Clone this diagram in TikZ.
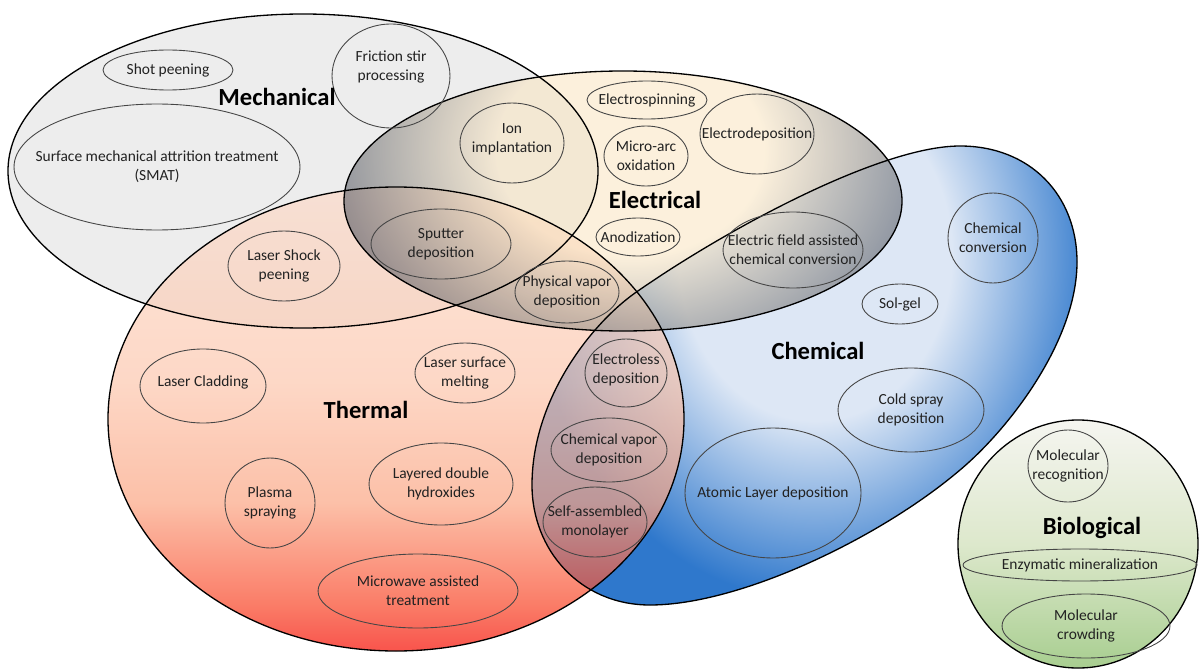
\documentclass[tikz,border=0pt]{standalone}
\usepackage{fontspec}
\setmainfont{Carlito}
\usetikzlibrary{shapes.geometric}

\definecolor{mechgray}{HTML}{EDEDED}
\definecolor{chemlight}{HTML}{DDE7F5}
\definecolor{chemblue}{HTML}{2F78CC}
\definecolor{thermred}{RGB}{246,11,0}
\definecolor{thermlow}{RGB}{248,69,39}
\definecolor{thermmid}{RGB}{251,165,131}
\definecolor{thermhigh}{RGB}{252,199,174}
\definecolor{thermtop}{RGB}{252,219,202}
\definecolor{eleclight}{RGB}{249,228,191}
\definecolor{elecdark}{RGB}{30,42,66}
\definecolor{biotop}{HTML}{F5F5F0}
\definecolor{biomid}{HTML}{DDE8CC}
\definecolor{biobottom}{HTML}{A8CE90}
\definecolor{procline}{HTML}{454545}
\definecolor{textcol}{HTML}{222222}

\pgfdeclareverticalshading{thermshade}{100bp}{color(0bp)=(thermred); color(25bp)=(thermred); color(30bp)=(thermlow); color(41bp)=(thermmid); color(54bp)=(thermhigh); color(75bp)=(thermtop); color(100bp)=(thermtop)}
\pgfdeclareradialshading{chemshade}{\pgfpoint{0bp}{0bp}}{color(0bp)=(chemlight); color(12bp)=(chemlight); color(25bp)=(chemblue); color(50bp)=(chemblue)}
\pgfdeclareradialshading{elecshade}{\pgfpoint{0bp}{0bp}}{color(0bp)=(eleclight); color(10bp)=(eleclight); color(25bp)=(elecdark); color(50bp)=(elecdark)}
\pgfdeclareverticalshading{bioshade}{100bp}{color(0bp)=(biobottom); color(25bp)=(biobottom); color(50bp)=(biomid); color(75bp)=(biotop); color(100bp)=(biotop)}

\tikzset{
  outline/.style={draw=black, line width=0.75pt},
  proc/.style={ellipse, draw=procline, line width=0.5pt, inner sep=0pt},
  proctext/.style={font=\fontsize{8.8}{10.8}\selectfont, text=textcol, align=center, inner sep=0pt},
  group/.style={font=\bfseries\fontsize{14}{16}\selectfont, text=black}
}

\def\chempath{(532,485) .. controls (532,400) and (590,325) .. (635,293)
  .. controls (725,230) and (880,146) .. (960,146)
  .. controls (1030,146) and (1077,195) .. (1077,262)
  .. controls (1077,340) and (1010,428) .. (960,470)
  .. controls (880,538) and (740,605) .. (650,605)
  .. controls (580,605) and (532,550) .. cycle}

\begin{document}
\begin{tikzpicture}[x=0.02cm, y=-0.02cm]
    \useasboundingbox (0,0) rectangle (1200,669);

    % fills
    \fill[mechgray] (303,171) ellipse (295 and 157);
    \fill[chemblue] \chempath;
    \begin{scope}
      \clip \chempath;
      \shade[shading=chemshade] (815,255) ellipse (285 and 345);
    \end{scope}
    \shade[shading=thermshade, fill opacity=0.7] (396,419) ellipse (288 and 232);
    \begin{scope}
      \clip (623,201) ellipse (279 and 130);
      \shade[shading=elecshade, fill opacity=0.55] (630,150) ellipse (335 and 265);
    \end{scope}
    \shade[shading=bioshade] (1078,544) ellipse (120 and 124);

    % outlines
    \draw[outline] (303,171) ellipse (295 and 157);
    \draw[outline] \chempath;
    \draw[outline] (396,419) ellipse (288 and 232);
    \draw[outline] (623,201) ellipse (279 and 130);
    \draw[outline] (1078,544) ellipse (120 and 124);

    % mechanical
    \node[proc, minimum width=2.6cm, minimum height=0.8cm, label={[proctext]center:Shot peening}] (shot) at (168,70) {};
    \node[proc, minimum width=2.36cm, minimum height=2.08cm, label={[proctext, yshift=5pt]center:Friction stir\\processing}] (fsp) at (391,76) {};
    \node[proc, minimum width=5.72cm, minimum height=2.52cm, label={[proctext]center:Surface mechanical attrition treatment\\(SMAT)}] (smat) at (157,167) {};

    % electrical
    \node[proc, minimum width=2.08cm, minimum height=1.6cm, label={[proctext, yshift=2pt]center:Ion\\implantation}] (ion) at (512,143) {};
    \node[proc, minimum width=2.4cm, minimum height=0.76cm, label={[proctext]center:Electrospinning}] (espin) at (647,100) {};
    \node[proc, minimum width=1.68cm, minimum height=1.2cm, label={[proctext]center:Micro-arc\\oxidation}] (mao) at (646,156) {};
    \node[proc, minimum width=2.28cm, minimum height=1.6cm, label={[proctext]center:Electrodeposition}] (edep) at (757,134) {};
    \node[proc, minimum width=1.68cm, minimum height=0.76cm, label={[proctext]center:Anodization}] (anod) at (638,237) {};
    \node[proc, minimum width=2.8cm, minimum height=1.52cm, label={[proctext]center:Electric field assisted\\chemical conversion}] (efacc) at (793,250) {};
    \node[proc, minimum width=2.8cm, minimum height=1.4cm, label={[proctext]center:Sputter\\deposition}] (sputter) at (441,244) {};
    \node[proc, minimum width=2.08cm, minimum height=1.24cm, label={[proctext]center:Physical vapor\\deposition}] (pvd) at (567,292) {};

    % thermal
    \node[proc, minimum width=2.24cm, minimum height=1.4cm, label={[proctext]center:Laser Shock\\peening}] (lsp) at (284,266) {};
    \node[proc, minimum width=2.52cm, minimum height=1.48cm, label={[proctext, yshift=2pt]center:Laser Cladding}] (clad) at (203,386) {};
    \node[proc, minimum width=2.0cm, minimum height=1.2cm, label={[proctext]center:Laser surface\\melting}] (lsm) at (465,373) {};
    \node[proc, minimum width=1.8cm, minimum height=1.8cm, label={[proctext]center:Plasma\\spraying}] (plasma) at (270,503) {};
    \node[proc, minimum width=2.88cm, minimum height=1.64cm, label={[proctext]center:Layered double\\hydroxides}] (ldh) at (441,484) {};
    \node[proc, minimum width=4.0cm, minimum height=1.48cm, label={[proctext]center:Microwave assisted\\treatment}] (mw) at (418,591) {};

    % thermal and chemical
    \node[proc, minimum width=1.64cm, minimum height=1.36cm, label={[proctext, yshift=2pt]center:Electroless\\deposition}] (eless) at (626,373) {};
    \node[proc, minimum width=2.32cm, minimum height=1.28cm, label={[proctext]center:Chemical vapor\\deposition}] (cvd) at (609,450) {};
    \node[proc, minimum width=2.08cm, minimum height=1.4cm, label={[proctext]center:Self-assembled\\monolayer}] (sam) at (595,522) {};

    % chemical
    \node[proc, minimum width=1.8cm, minimum height=1.8cm, label={[proctext]center:Chemical\\conversion}] (chconv) at (993,238) {};
    \node[proc, minimum width=1.52cm, minimum height=0.8cm, label={[proctext]center:Sol-gel}] (solgel) at (900,304) {};
    \node[proc, minimum width=2.92cm, minimum height=1.68cm, label={[proctext]center:Cold spray\\deposition}] (cold) at (911,410) {};
    \node[proc, minimum width=3.52cm, minimum height=2.6cm, label={[proctext]center:Atomic Layer deposition}] (ald) at (773,493) {};

    % biological
    \node[proc, minimum width=1.6cm, minimum height=1.44cm, label={[proctext]center:Molecular\\recognition}] (molrec) at (1068,466) {};
    \node[proc, minimum width=4.68cm, minimum height=0.64cm, label={[proctext]center:Enzymatic mineralization}] (enzy) at (1080,565) {};
    \node[proc, minimum width=3.36cm, minimum height=1.28cm, label={[proctext]center:Molecular\\crowding}] (molcrowd) at (1086,626) {};

    % group names
    \node[group] (mech) at (277,97) {Mechanical};
    \node[group] (elec) at (655,200) {Electrical};
    \node[group] (therm) at (366,410) {Thermal};
    \node[group] (chem) at (818,351) {Chemical};
    \node[group] (bio) at (1092,528) {Biological};
\end{tikzpicture}
\end{document}
